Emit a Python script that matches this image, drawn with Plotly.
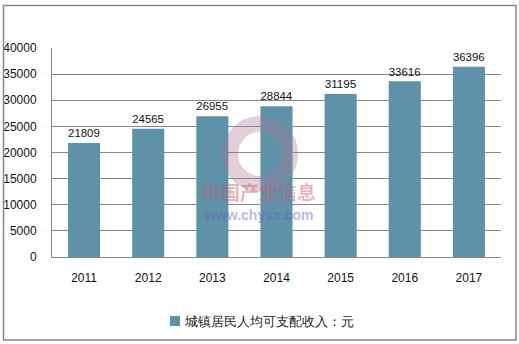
import plotly.graph_objects as go

years = ["2011", "2012", "2013", "2014", "2015", "2016", "2017"]
income = [21809, 24565, 26955, 28844, 31195, 33616, 36396]
series_name = "城镇居民人均可支配收入：元"
y_ticks = [0, 5000, 10000, 15000, 20000, 25000, 30000, 35000, 40000]

W, H = 519, 344
L, R, T, B = 52, 18, 48, 87
pw, ph = W - L - R, H - T - B

def px_x(p):
    return (p - L) / pw

def px_y(p):
    return (H - B - p) / ph

font = "Liberation Sans, Arial, sans-serif"
bar_color = "#5e92a8"

fig = go.Figure()
fig.add_trace(go.Bar(
    x=years, y=income, name=series_name,
    marker=dict(color=bar_color, line=dict(width=0)),
    text=[str(v) for v in income], textposition="outside",
    textfont=dict(family=font, size=12, color="#111"),
    cliponaxis=False, showlegend=False,
))

shapes = [
    # watermark ring
    dict(type="circle", xref="paper", yref="paper",
         x0=px_x(230), x1=px_x(290), y0=px_y(184), y1=px_y(124),
         line=dict(color="rgba(170,120,150,0.35)", width=16), fillcolor="rgba(0,0,0,0)", layer="above"),
    # outer border
    dict(type="rect", xref="paper", yref="paper",
         x0=px_x(3.5), x1=px_x(516), y0=px_y(340), y1=px_y(5.5),
         line=dict(color="#888", width=1.5), fillcolor="rgba(0,0,0,0)", layer="above"),
    # legend swatch
    dict(type="rect", xref="paper", yref="paper",
         x0=px_x(170), x1=px_x(180), y0=px_y(326), y1=px_y(316),
         line=dict(width=0), fillcolor=bar_color),
]

fig.update_layout(
    width=W, height=H,
    margin=dict(l=L, r=R, t=T, b=B, autoexpand=False),
    paper_bgcolor="white", plot_bgcolor="white",
    bargap=0.5,
    showlegend=False,
    font=dict(family=font, size=12, color="#222"),
    xaxis=dict(showgrid=False, showline=True, linecolor="#888", linewidth=1,
               ticks="", tickfont=dict(family=font, size=12, color="#111"),
               ticklabelstandoff=10, automargin=False),
    yaxis=dict(range=[0, 40000], tickvals=y_ticks, ticktext=[str(v) for v in y_ticks],
               showgrid=True, gridcolor="#888", gridwidth=1,
               showline=True, linecolor="#888", linewidth=1,
               zeroline=False, ticks="", ticklabelstandoff=12, automargin=False,
               tickfont=dict(family=font, size=12, color="#111")),
    shapes=shapes,
    annotations=[
        dict(text="<b>中国产业信息</b>", xref="paper", yref="paper", x=px_x(259), y=px_y(207),
             showarrow=False, font=dict(family="Noto Sans CJK SC", size=19, color="rgba(200,90,100,0.45)")),
        dict(text="<b>www.chyxx.com</b>", xref="paper", yref="paper", x=px_x(258), y=px_y(225),
             showarrow=False, font=dict(family=font, size=14, color="rgba(90,100,180,0.45)")),
        dict(text=series_name, xref="paper", yref="paper", x=px_x(182), y=px_y(321),
             xanchor="left", yanchor="middle", showarrow=False,
             font=dict(family=font, size=13, color="#222")),
    ],
)

fig.write_html("out.html")
